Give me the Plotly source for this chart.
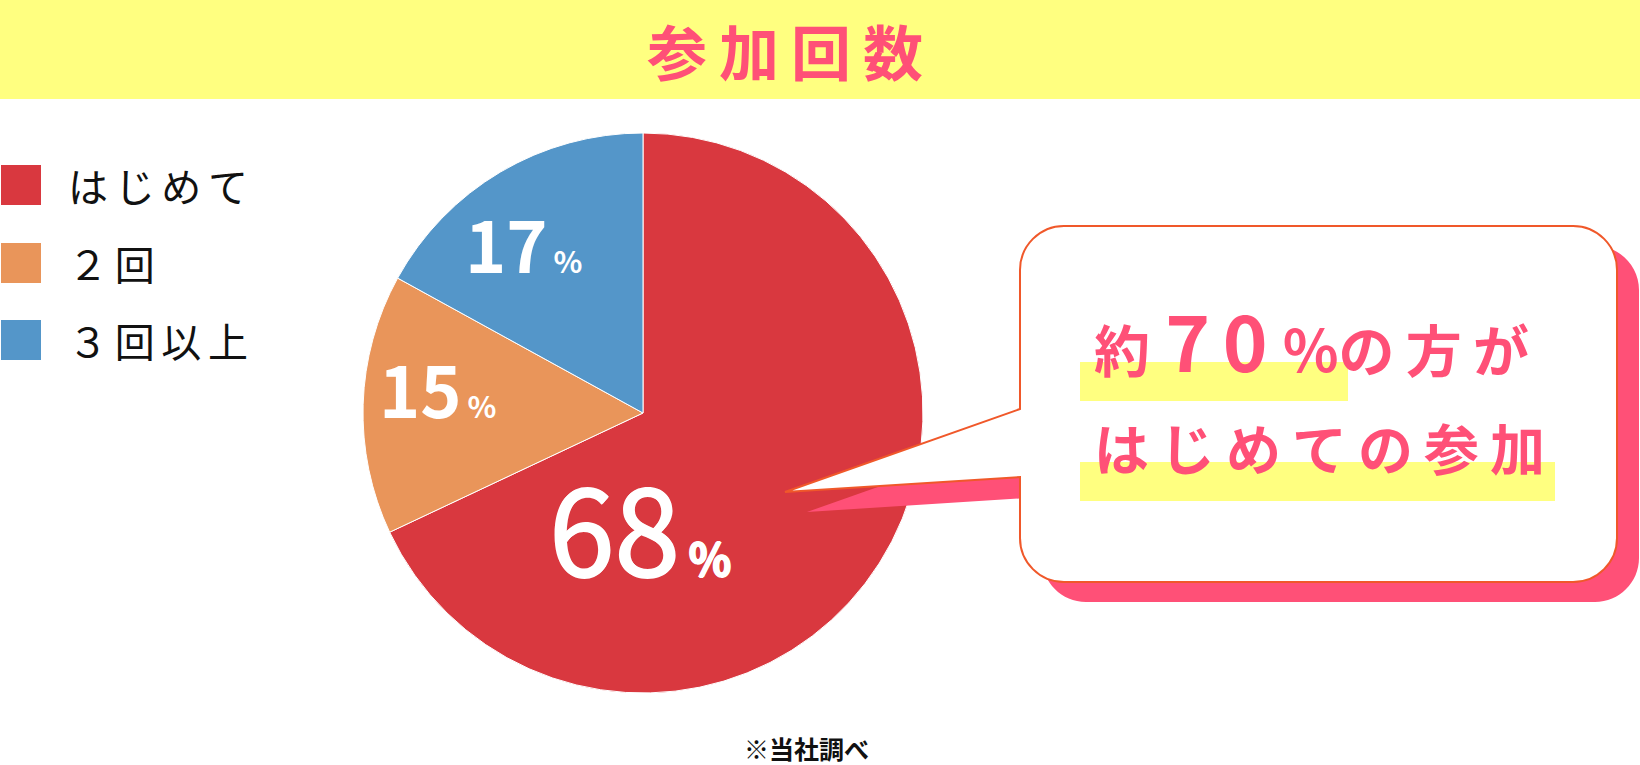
import plotly.graph_objects as go

W, H = 1640, 765

categories = ['はじめて', '２回', '３回以上']
values = [68, 15, 17]
colors = ['#d9383f', '#e9955a', '#5496c9']

title_text = '参加回数'
note_text = '※当社調べ'

PINK = '#ff5077'
YELLOW = '#ffff80'
EDGE = '#f0582a'
FONT = 'Noto Sans CJK JP'


def px(x):
    return x / W


def py(y):
    return 1 - y / H


def pt(x, y):
    return f'{px(x):.5f},{py(y):.5f}'


def callout_path(x0, y0, x1, y1, r, tail):
    k = 0.5523 * r
    (ax, ay), (tx, ty), (bx, by) = tail
    return (
        f'M {pt(x0 + r, y0)} L {pt(x1 - r, y0)} '
        f'C {pt(x1 - r + k, y0)} {pt(x1, y0 + r - k)} {pt(x1, y0 + r)} '
        f'L {pt(x1, y1 - r)} '
        f'C {pt(x1, y1 - r + k)} {pt(x1 - r + k, y1)} {pt(x1 - r, y1)} '
        f'L {pt(x0 + r, y1)} '
        f'C {pt(x0 + r - k, y1)} {pt(x0, y1 - r + k)} {pt(x0, y1 - r)} '
        f'L {pt(bx, by)} L {pt(tx, ty)} L {pt(ax, ay)} '
        f'L {pt(x0, y0 + r)} '
        f'C {pt(x0, y0 + r - k)} {pt(x0 + r - k, y0)} {pt(x0 + r, y0)} Z'
    )


def main():
    fig = go.Figure()
    cx, cy, rad = 643, 413, 280
    fig.add_trace(go.Pie(
        labels=categories,
        values=values,
        marker={'colors': colors, 'line': {'color': 'white', 'width': 1}},
        sort=False,
        direction='clockwise',
        rotation=0,
        textinfo='none',
        hoverinfo='label+percent',
        showlegend=False,
        domain={'x': [px(cx - rad), px(cx + rad)], 'y': [py(cy + rad), py(cy - rad)]},
    ))

    shapes = []
    annotations = []

    # title band
    shapes.append(dict(type='rect', xref='paper', yref='paper', x0=0, x1=1,
                       y0=py(99), y1=1, fillcolor=YELLOW, line={'width': 0}, layer='below'))
    annotations.append(dict(
        text='<b>' + '\u2009'.join(title_text) + '</b>', x=px(785), y=py(50),
        xref='paper', yref='paper', showarrow=False, xanchor='center', yanchor='middle',
        font={'family': FONT, 'size': 60, 'color': PINK}))

    # legend
    leg_y = [185, 263, 340]
    for name, col, yy in zip(categories, colors, leg_y):
        shapes.append(dict(type='rect', xref='paper', yref='paper', x0=px(1), x1=px(41),
                           y0=py(yy + 20), y1=py(yy - 20), fillcolor=col, line={'width': 0}))
        annotations.append(dict(
            text='\u2006'.join(name), x=px(66), y=py(yy), xref='paper', yref='paper',
            showarrow=False, xanchor='left', yanchor='middle',
            font={'family': FONT, 'size': 40, 'color': '#111111'}))

    # pie labels
    label_pos = [(640, 524), (438, 387), (524, 242)]
    label_size = [(118, 44), (70, 30), (70, 30)]
    label_weight = [400, 700, 700]
    label_shadow = ['1px 0 0 white, -1px 0 0 white, 0 1px 0 white, 0 -1px 0 white',
                    'none', 'none']
    for v, (lx, ly), (big, small), wt, sh in zip(values, label_pos, label_size,
                                                 label_weight, label_shadow):
        annotations.append(dict(
            text=f"{v}<span style='font-size:{small}px;font-weight:700'>\u2009%</span>",
            x=px(lx), y=py(ly), xref='paper', yref='paper', showarrow=False,
            xanchor='center', yanchor='middle',
            font={'family': FONT, 'size': big, 'color': 'white', 'weight': wt, 'shadow': sh}))

    # callout
    box = (1020, 226, 1617, 582)
    tail = [(1020, 409), (785, 492), (1020, 477)]
    dx, dy = 22, 20
    shadow_tail = [(x + dx, y + dy) for x, y in tail]
    shapes.append(dict(type='path', xref='paper', yref='paper',
                       path=callout_path(box[0] + dx, box[1] + dy, box[2] + dx, box[3] + dy, 44, shadow_tail),
                       fillcolor=PINK, line={'width': 0}, layer='above'))
    shapes.append(dict(type='path', xref='paper', yref='paper',
                       path=callout_path(*box, 44, tail),
                       fillcolor='white', line={'color': EDGE, 'width': 2}, layer='above'))
    for x0, x1, y0, y1 in [(1080, 1348, 362, 401), (1080, 1555, 462, 501)]:
        shapes.append(dict(type='rect', xref='paper', yref='paper', x0=px(x0), x1=px(x1),
                           y0=py(y1), y1=py(y0), fillcolor=YELLOW, line={'width': 0}, layer='above'))

    approx = '\u2006'.join(str(round(values[0], -1)))
    line1 = ("<b>約</b><span style='font-size:76px'><b>\u2009" + approx + "\u2009</b></span>"
             "<span style='font-size:58px'><b>%</b></span><b>の\u2009方\u2009が</b>")
    annotations.append(dict(
        text=line1, x=px(1092), y=py(339), xref='paper', yref='paper', showarrow=False,
        xanchor='left', yanchor='middle', font={'family': FONT, 'size': 56, 'color': PINK}))
    annotations.append(dict(
        text='<b>' + '\u2009'.join('はじめての参加') + '</b>', x=px(1092), y=py(446),
        xref='paper', yref='paper', showarrow=False, xanchor='left', yanchor='middle',
        font={'family': FONT, 'size': 55, 'color': PINK}))

    annotations.append(dict(
        text='<b>' + note_text + '</b>', x=px(806), y=py(748), xref='paper', yref='paper',
        showarrow=False, xanchor='center', yanchor='middle',
        font={'family': FONT, 'size': 25, 'color': '#111111'}))

    fig.update_layout(
        width=W, height=H,
        margin={'l': 0, 'r': 0, 't': 0, 'b': 0},
        paper_bgcolor='white', plot_bgcolor='white',
        shapes=shapes, annotations=annotations,
        showlegend=False,
    )
    fig.write_html('out.html', config={'displayModeBar': False},
                   post_script="document.body.style.margin='0';")


if __name__ == '__main__':
    main()
